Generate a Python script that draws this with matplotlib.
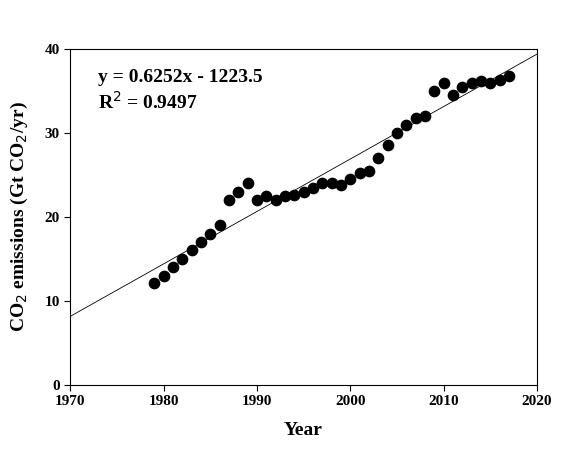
import numpy as np
import matplotlib
matplotlib.use("Agg")
import matplotlib.pyplot as plt

plt.rcParams.update({
    'font.family': 'Liberation Serif',
    'font.size': 11,
})

years = np.arange(1979, 2018)
emissions = [12.1, 13.0, 14.0, 15.0, 16.0, 17.0, 18.0, 19.0, 22.0, 23.0,
             24.0, 22.0, 22.5, 22.0, 22.5, 22.6, 23.0, 23.5, 24.0, 24.0,
             23.8, 24.5, 25.2, 25.5, 27.0, 28.6, 30.0, 31.0, 31.8, 32.0,
             35.0, 36.0, 34.5, 35.5, 36.0, 36.2, 36.0, 36.3, 36.8]
slope, intercept = 0.6252, -1223.5

fig = plt.figure(figsize=(5.8, 4.5), dpi=100)
ax = fig.add_axes([0.121, 0.145, 0.805, 0.746])

xl = np.array([1970, 2020])
ax.plot(xl, slope * xl + intercept, color='black', linewidth=0.6)
ax.scatter(years, emissions, s=55, color='black', zorder=3)

ax.set_xlim(1970, 2020)
ax.set_ylim(0, 40)
ax.set_xticks([1970, 1980, 1990, 2000, 2010, 2020])
ax.set_yticks([0, 10, 20, 30, 40])
for lab in ax.get_xticklabels() + ax.get_yticklabels():
    lab.set_fontweight('bold')
ax.tick_params(direction='out', length=4)

ax.set_xlabel('Year', fontsize=14, fontweight='bold', labelpad=10)
ax.set_ylabel(r'CO$_2$ emissions (Gt CO$_2$/yr)', fontsize=14, fontweight='bold', labelpad=10)

ax.text(1973, 36.1, 'y = 0.6252x - 1223.5', fontsize=14, fontweight='bold')
ax.text(1973, 32.9, r'R$^2$ = 0.9497', fontsize=14, fontweight='bold')

plt.rcParams['mathtext.fontset'] = 'custom'
fig.savefig('out.png', dpi=100)
